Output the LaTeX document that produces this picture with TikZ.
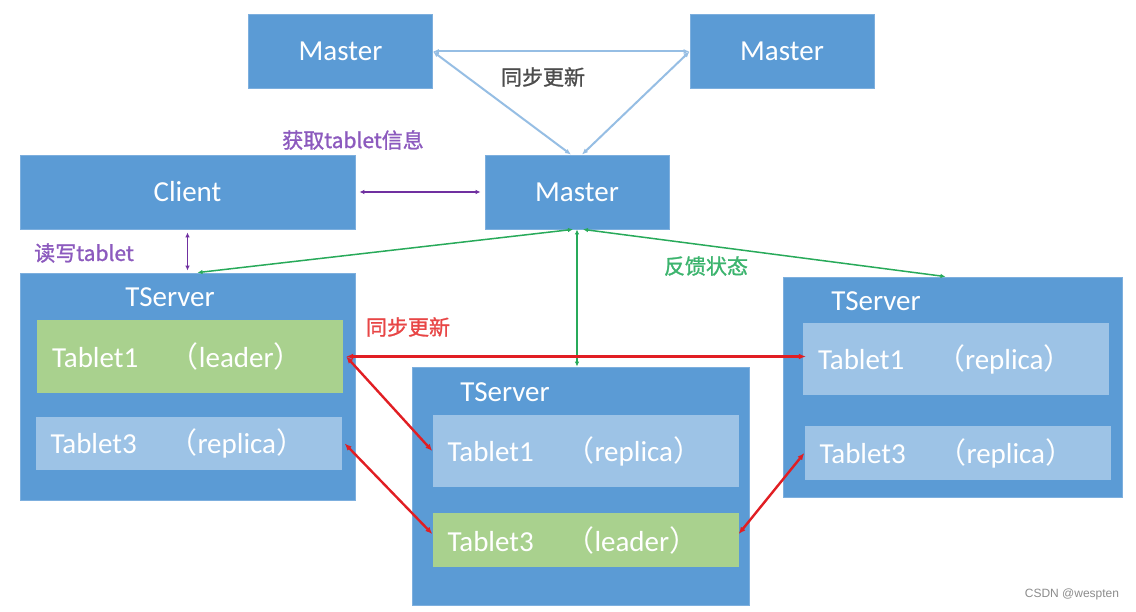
\documentclass[tikz,border=0pt]{standalone}
\usepackage{fontspec}
\setmainfont{Carlito}
\newfontfamily\cjk{Noto Sans CJK SC}
\newfontfamily\cjktag{Noto Sans CJK SC}[FakeBold=1.2]
\newfontfamily\wmfont{Liberation Sans}
\usetikzlibrary{arrows.meta,calc,positioning}
\definecolor{boxblue}{RGB}{91,155,213}
\definecolor{boxedge}{RGB}{125,175,222}
\definecolor{replicablue}{RGB}{157,195,230}
\definecolor{leadergreen}{RGB}{169,209,142}
\definecolor{syncblue}{RGB}{150,190,228}
\definecolor{readpurple}{RGB}{112,48,160}
\definecolor{labelpurple}{RGB}{140,90,190}
\definecolor{statusgreen}{RGB}{40,170,90}
\definecolor{labelgreen}{RGB}{60,180,110}
\definecolor{syncred}{RGB}{225,30,35}
\definecolor{labelred}{RGB}{232,70,70}
\newcommand{\tabtext}[2]{\makebox[118pt][l]{#1}{\cjk （}#2{\cjk ）}}

\begin{document}
\begin{tikzpicture}[x=1pt, y=-1pt, >={Latex[length=6pt,width=5pt]}]
    \tikzstyle{every node} = [font=\fontsize{29}{34}\selectfont, inner sep=0pt]
    \tikzstyle{box} = [rectangle, fill=boxblue, draw=boxedge, line width=0.8pt, text=white]
    \tikzstyle{server} = [box, minimum width=184pt, minimum height=74pt]
    \tikzstyle{tablet} = [rectangle, text=white, minimum width=306pt, text width=276pt, align=left]
    \tikzstyle{leader} = [tablet, fill=leadergreen]
    \tikzstyle{replica} = [tablet, fill=replicablue]
    \tikzstyle{tag} = [font=\cjktag\fontsize{21}{25}\selectfont]
    \tikzstyle{sync} = [<->, syncblue, line width=2pt]
    \tikzstyle{rw} = [<->, readpurple, line width=1.5pt, >={Latex[length=5pt,width=4.5pt]}]
    \tikzstyle{status} = [<->, statusgreen, line width=1.5pt, >={Latex[length=5pt,width=4.5pt]}]
    \tikzstyle{copy} = [<->, syncred, line width=2.4pt, >={Latex[length=7pt,width=6pt]}]

    \fill[white] (0,0) rectangle (1136,612);
    \useasboundingbox (0,0) rectangle (1136,612);

    % masters and client
    \node (mtl) [server] at (340.5,51.5) {Master};
    \node (mtr) [server] at (782,51.5) {Master};
    \node (mm) [server] at (577,192) {Master};
    \node (client) [box, minimum width=335pt, minimum height=74pt] at (187.5,192) {Client};

    % tablet servers
    \node (ts1) [box, minimum width=335pt, minimum height=227pt] at (187.5,386.5) {};
    \node (ts2) [box, minimum width=337pt, minimum height=238pt] at (580.5,486) {};
    \node (ts3) [box, minimum width=339pt, minimum height=220pt] at (952.5,387) {};
    \node (ts1name) [text=white] at (170,297) {TServer};
    \node (ts2name) [text=white] at (505,392) {TServer};
    \node (ts3name) [text=white] at (876,301) {TServer};

    \node (t1l) [leader, minimum height=73pt] at (190,356.5) {\tabtext{Tablet1}{leader}};
    \node (t3l) [replica, minimum height=53pt] at (188.5,443.5) {\tabtext{Tablet3}{replica}};
    \node (t1m) [replica, minimum height=72pt] at (585.5,451) {\tabtext{Tablet1}{replica}};
    \node (t3m) [leader, minimum height=54pt] at (585.5,540) {\tabtext{Tablet3}{leader}};
    \node (t1r) [replica, minimum height=72pt] at (956,359) {\tabtext{Tablet1}{replica}};
    \node (t3r) [replica, minimum height=54pt] at (957.5,453) {\tabtext{Tablet3}{replica}};

    % master sync
    \draw [sync] (mtl.east) -- (mtr.west);
    \draw [sync] (mtl.east) -- ([xshift=-6pt]mm.north);
    \draw [sync] (mtr.west) -- ([xshift=5pt]mm.north);
    \node (synclabel) [tag, text=black!70] at (543,77) {同步更新};

    % client
    \draw [rw, shorten <=4pt, shorten >=4pt] (client.east) -- (mm.west);
    \node (getlabel) [tag, text=labelpurple] at (353,140) {获取tablet信息};
    \draw [rw, shorten <=3pt, shorten >=2pt] (client.south) -- (ts1.north);
    \node (rwlabel) [tag, text=labelpurple] at (84,253) {读写tablet};

    % heartbeats
    \draw [status] ([xshift=-4pt]mm.south) -- ([xshift=10pt]ts1.north);
    \draw [status] ([xshift=6pt]mm.south) -- ([xshift=-7pt]ts3.north);
    \draw [status] (mm.south) -- (mm.south |- ts2.north);
    \node (statuslabel) [tag, text=labelgreen] at (706,266) {反馈状态};

    % replication
    \draw [copy] ([xshift=3pt]t1l.east) -- ([xshift=3pt]t1l.east -| t1r.west);
    \draw [copy] ([xshift=3pt]t1l.east) -- (t1m.west);
    \draw [copy] ([xshift=3pt]t3l.east) -- ([yshift=6pt]t3m.west);
    \draw [copy] ([yshift=6pt]t3m.east) -- (t3r.west);
    \node (copylabel) [tag, text=labelred] at (408,327) {同步更新};

    \node (mark) [font=\wmfont\fontsize{12}{14}\selectfont, text=black!45] at (1072,594) {CSDN @wespten};
\end{tikzpicture}
\end{document}
